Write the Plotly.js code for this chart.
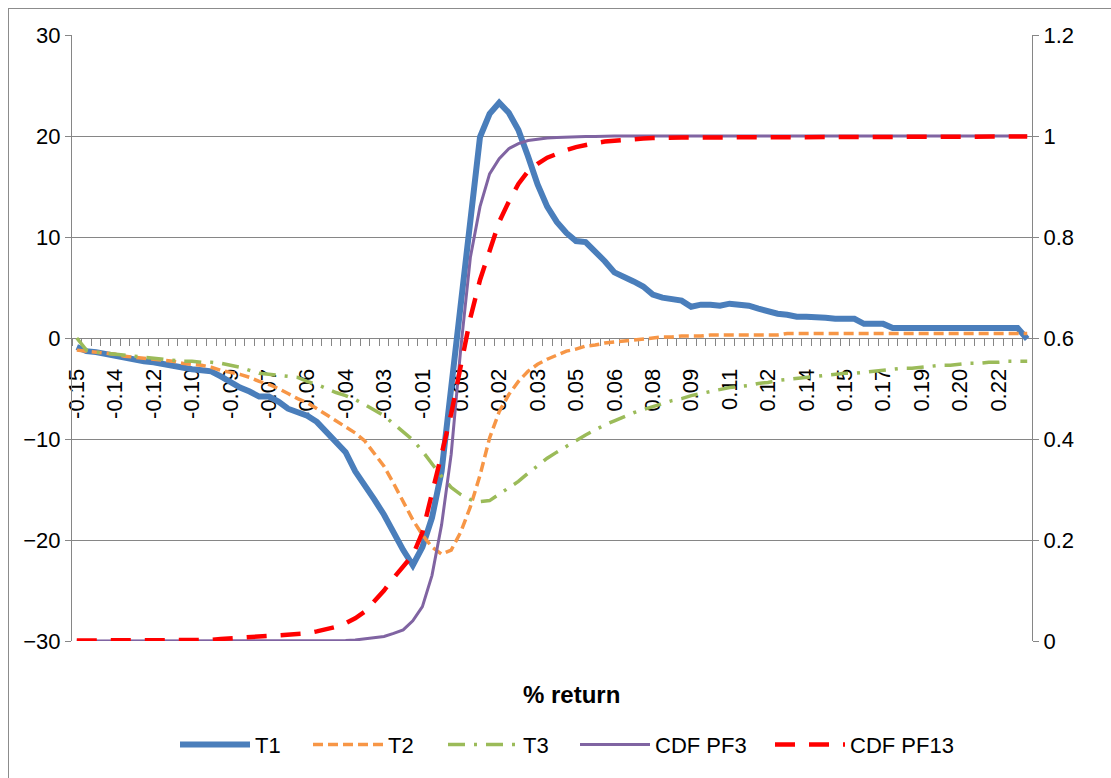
<!DOCTYPE html>
<html>
<head>
<meta charset="utf-8">
<script src="https://cdn.plot.ly/plotly-3.0.1.min.js"></script>
<style>
  html, body { margin: 0; padding: 0; background: #fff; }
  #wrap { position: relative; width: 1111px; height: 778px; }
  #chart { position: absolute; left: 0; top: 0; width: 1111px; height: 778px; }
  #frame { position: absolute; left: 8px; top: 8px; width: 1200px; height: 900px;
           border-left: 1px solid #8c8c8c; border-top: 1px solid #8c8c8c; pointer-events: none; }
</style>
</head>
<body>
<div id="wrap">
  <div id="chart"></div>
  <div id="frame"></div>
</div>
<script>
// x-axis tick labels (% return), one label every 4 categories
const tickLabels = ['-0.15','-0.14','-0.12','-0.10','-0.09','-0.07','-0.06','-0.04','-0.03','-0.01',
  '0.00','0.02','0.03','0.05','0.06','0.08','0.09','0.11','0.12','0.14','0.15','0.17','0.19','0.20','0.22'];

// Series values (left axis)
const T1 = [-0.9,-1.3,-1.4,-1.6,-1.7,-2.0,-2.2,-2.3,-2.4,-2.6,
  -2.8,-3.0,-3.1,-3.2,-3.3,-3.8,-4.4,-4.9,-5.3,-5.8,
  -5.8,-6.3,-7.0,-7.4,-7.7,-8.3,-9.3,-10.3,-11.3,-13.2,
  -14.5,-16.0,-17.5,-19.3,-21.0,-22.5,-20.7,-17.8,-13.2,-4.9,
  3.4,11.6,19.9,22.2,23.3,22.3,20.6,18.0,15.2,13.0,
  11.5,10.4,9.6,9.5,8.6,7.6,6.5,6.1,5.6,5.1,
  4.3,4.0,3.8,3.7,3.1,3.3,3.3,3.2,3.4,3.3,
  3.2,2.9,2.6,2.4,2.3,2.1,2.1,2.1,2.0,1.9,
  1.9,1.9,1.4,1.4,1.4,1.0,1.0,1.0,1.0,1.0,
  1.0,1.0,1.0,1.0,1.0,1.0,1.0,1.0,1.0,-0.1];

const T2 = [-1.2,-1.3,-1.4,-1.5,-1.6,-1.8,-1.9,-2.0,-2.1,-2.2,
  -2.3,-2.5,-2.6,-2.7,-2.9,-3.2,-3.4,-3.6,-3.9,-4.3,
  -4.6,-5.0,-5.5,-6.0,-6.4,-7.0,-7.5,-8.1,-8.7,-9.4,
  -10.2,-11.4,-12.7,-14.4,-16.2,-18.0,-19.5,-20.7,-21.4,-21.0,
  -19.2,-16.7,-13.6,-9.9,-7.3,-5.6,-4.3,-3.3,-2.6,-2.1,
  -1.7,-1.3,-1.1,-0.8,-0.7,-0.5,-0.4,-0.3,-0.2,-0.1,
  0.0,0.1,0.1,0.2,0.2,0.2,0.3,0.3,0.3,0.3,
  0.3,0.3,0.3,0.3,0.45,0.45,0.45,0.45,0.45,0.45,
  0.45,0.45,0.45,0.45,0.45,0.45,0.45,0.45,0.45,0.45,
  0.45,0.45,0.45,0.45,0.45,0.45,0.45,0.45,0.45,0.45];

const T3 = [0.0,-1.2,-1.4,-1.5,-1.6,-1.7,-1.8,-1.9,-2.0,-2.1,
  -2.2,-2.3,-2.3,-2.4,-2.4,-2.5,-2.7,-2.9,-3.2,-3.5,
  -3.6,-3.7,-3.8,-3.9,-4.3,-4.6,-5.0,-5.4,-5.7,-6.1,
  -6.6,-7.2,-7.7,-8.5,-9.3,-10.1,-11.2,-12.5,-13.7,-14.8,
  -15.5,-16.0,-16.2,-16.1,-15.5,-14.9,-14.2,-13.4,-12.6,-11.9,
  -11.3,-10.7,-10.2,-9.6,-9.1,-8.6,-8.2,-7.8,-7.4,-7.1,
  -6.8,-6.5,-6.2,-6.0,-5.7,-5.5,-5.3,-5.1,-4.9,-4.8,
  -4.7,-4.5,-4.4,-4.2,-4.1,-4.0,-3.9,-3.8,-3.7,-3.6,
  -3.5,-3.5,-3.4,-3.3,-3.2,-3.1,-3.0,-3.0,-2.9,-2.8,
  -2.7,-2.7,-2.6,-2.5,-2.5,-2.4,-2.4,-2.3,-2.3,-2.3];

// CDF series (right axis)
const CDF_PF3 = [0,0,0,0,0,0,0,0,0,0,
  0,0,0,0,0,0,0,0,0,0,
  0,0,0,0,0,0,0,0,0.001,0.002,
  0.004,0.006,0.009,0.015,0.022,0.04,0.068,0.13,0.23,0.37,
  0.58,0.76,0.86,0.925,0.955,0.975,0.985,0.991,0.994,0.996,
  0.997,0.998,0.999,0.999,0.999,1,1,1,1,1,
  1,1,1,1,1,1,1,1,1,1,
  1,1,1,1,1,1,1,1,1,1,
  1,1,1,1,1,1,1,1,1,1,
  1,1,1,1,1,1,1,1,1,1];

const CDF_PF13 = [0.001,0.001,0.001,0.001,0.001,0.001,0.001,0.001,0.001,0.001,
  0.002,0.002,0.002,0.002,0.002,0.004,0.005,0.006,0.007,0.008,
  0.009,0.011,0.012,0.013,0.015,0.019,0.023,0.028,0.035,0.045,
  0.058,0.078,0.100,0.125,0.148,0.17,0.215,0.29,0.37,0.45,
  0.54,0.64,0.715,0.775,0.83,0.87,0.905,0.93,0.945,0.957,
  0.965,0.972,0.978,0.983,0.986,0.989,0.991,0.993,0.994,0.995,
  0.996,0.997,0.997,0.997,0.997,0.997,0.997,0.999,0.999,0.999,
  0.999,0.999,0.999,0.999,0.999,0.999,0.999,0.999,0.999,0.999,
  0.999,0.999,0.999,0.999,0.999,0.999,0.999,0.999,0.999,0.999,
  0.999,0.999,0.999,0.999,0.999,0.999,0.999,0.999,0.999,0.999];

const xIdx = T1.map((_, i) => i);
const tickIdx = tickLabels.map((_, k) => k * 4);

const FONT = 'Liberation Sans, Arial, sans-serif';
const GRID = '#868686';

const traces = [
  {name: 'T1', legend: 'legend', x: xIdx, y: T1, type: 'scatter', mode: 'lines', line: {color: '#4A7EBB', width: 6}},
  {name: 'T2', legend: 'legend2', x: xIdx, y: T2, type: 'scatter', mode: 'lines', line: {color: '#F79646', width: 3.5, dash: '10px,5px'}},
  {name: 'T3', legend: 'legend3', x: xIdx, y: T3, type: 'scatter', mode: 'lines', line: {color: '#9BBB59', width: 3.5, dash: '17px,9px,3px,9px'}},
  {name: 'CDF PF3', legend: 'legend4', x: xIdx, y: CDF_PF3, yaxis: 'y2', type: 'scatter', mode: 'lines', line: {color: '#8064A2', width: 3}},
  {name: 'CDF PF13', legend: 'legend5', x: xIdx, y: CDF_PF13, yaxis: 'y2', type: 'scatter', mode: 'lines', line: {color: '#FF0000', width: 4.5, dash: '20px,14px'}}
];

function legendAt(px) {
  return {orientation: 'h', x: (px - 72) / 960, xanchor: 'left', y: -0.171, yanchor: 'middle',
          font: {family: FONT, size: 22, color: '#000'}, itemwidth: 70, bgcolor: 'rgba(0,0,0,0)'};
}

const layout = {
  width: 1111, height: 778,
  margin: {l: 72, r: 79, t: 35, b: 135},
  paper_bgcolor: 'rgba(0,0,0,0)', plot_bgcolor: '#fff',
  font: {family: FONT, size: 22, color: '#000'},
  showlegend: true,
  legend: legendAt(175),
  legend2: legendAt(308),
  legend3: legendAt(443),
  legend4: legendAt(575),
  legend5: legendAt(770),
  xaxis: {
    range: [-0.5, 99.5], anchor: 'free', position: 0.5, layer: 'below traces',
    tickmode: 'array', tickvals: tickIdx, ticktext: tickLabels, tickangle: -90,
    ticks: '', ticklabelstandoff: 21, showgrid: false, zeroline: false,
    showline: true, linecolor: GRID, linewidth: 1,
    tickfont: {family: FONT, size: 22, color: '#000'},
    minor: {ticks: 'outside', ticklen: 7, tickcolor: GRID, tickwidth: 1, tickmode: 'linear', tick0: -0.5, dtick: 1, showgrid: false}
  },
  yaxis: {
    range: [-30, 30], tickmode: 'linear', tick0: -30, dtick: 10,
    ticks: 'outside', ticklen: 6, tickcolor: GRID,
    showline: true, linecolor: GRID, gridcolor: GRID, gridwidth: 1, zeroline: false,
    tickfont: {family: FONT, size: 22, color: '#000'}
  },
  yaxis2: {
    range: [0, 1.2], tickmode: 'linear', tick0: 0, dtick: 0.2, overlaying: 'y', side: 'right',
    ticks: 'outside', ticklen: 6, tickcolor: GRID,
    showline: true, linecolor: GRID, showgrid: false, zeroline: false,
    tickfont: {family: FONT, size: 22, color: '#000'}
  },
  annotations: [{
    text: '<b>% return</b>', xref: 'paper', yref: 'paper', x: 0.52, y: -0.089,
    xanchor: 'center', yanchor: 'middle', showarrow: false,
    font: {family: FONT, size: 24, color: '#000'}
  }]
};

Plotly.newPlot('chart', traces, layout, {staticPlot: true});
</script>
</body>
</html>
